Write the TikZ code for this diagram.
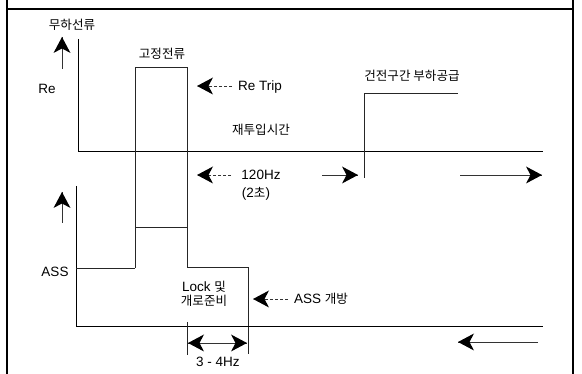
\documentclass[tikz,border=0pt]{standalone}
\usepackage{fontspec}
\setmainfont{Liberation Sans}
\newfontfamily\kr[Scale=0.93]{Noto Sans CJK KR}
\begin{document}
\begin{tikzpicture}[x=1pt,y=-1pt,
  sig/.style={line width=0.8pt, black!85},
  axis/.style={line width=1pt, black},
  frame/.style={line width=1.5pt, black},
  shaft/.style={line width=0.7pt, black!80},
  dshaft/.style={line width=0.7pt, black!80, densely dashed},
  ahead/.pic={\fill[black] (0,0) -- (-16,8.5) -- (-11.5,0) -- (-16,-8.5) -- cycle;},
  lbl/.style={font=\fontsize{13.5}{15}\selectfont, inner sep=0pt}]
\useasboundingbox (0,0) rectangle (582,374);
% frame
\coordinate (fl1) at (7,0); \coordinate (fl2) at (7,374);
\coordinate (fr1) at (573,0); \coordinate (fr2) at (573,374);
\coordinate (ft1) at (7,9); \coordinate (ft2) at (573,9);
\draw[frame] (fl1) -- (fl2);
\draw[frame] (fr1) -- (fr2);
\draw[frame] (ft1) -- (ft2);
% labels
\node[lbl] (t1) at (72,25) {\kr 무하선류};
\node[lbl] (t2) at (162,54) {\kr 고정전류};
\node[lbl] (re) at (47,89) {Re};
\node[lbl] (retrip) at (260,87) {Re Trip};
\node[lbl] (jae) at (261,130) {\kr 재투입시간};
\node[lbl] (geon) at (412,76) {\kr 건전구간 부하공급};
\node[lbl] (hz) at (261,175) {120Hz};
\node[lbl] (sec) at (256,194) {(2{\kr 초})};
\node[lbl] (ass) at (55,272) {ASS};
\node[lbl, align=center] (lock) at (204,294) {Lock {\kr 및}\\[-1pt]{\kr 개로준비}};
\node[lbl] (assopen) at (321,299) {ASS {\kr 개방}};
\node[lbl] (hz34) at (218,362) {3 - 4Hz};
% top section
\coordinate (ua1) at (62,69); \coordinate (ua2) at (62,37);
\draw[shaft] (ua1) -- (ua2); \pic[rotate=90] at (ua2) {ahead};
\coordinate (ta1) at (78,39); \coordinate (ta2) at (78,152);
\draw[axis] (ta1) -- (ta2);
\coordinate (tb2) at (543,152);
\draw[axis] (ta2) -- (tb2);
% pulse
\coordinate (p1) at (135,268); \coordinate (p2) at (135,67);
\coordinate (p3) at (187,67); \coordinate (p4) at (187,267);
\coordinate (p5) at (248,267); \coordinate (p6) at (248,354);
\draw[sig] (p1) -- (p2) -- (p3) -- (p4) -- (p5) -- (p6);
% step
\coordinate (s1) at (364,178); \coordinate (s2) at (364,93); \coordinate (s3) at (458,93);
\draw[sig] (s1) -- (s2) -- (s3);
% arrows top
\coordinate (rt1) at (232,86); \coordinate (rt2) at (197,86);
\draw[dshaft] (rt1) -- (rt2); \pic[rotate=180] at (rt2) {ahead};
\coordinate (h1) at (231,175); \coordinate (h2) at (197,175);
\draw[dshaft] (h1) -- (h2); \pic[rotate=180] at (h2) {ahead};
\coordinate (h3) at (322,175); \coordinate (h4) at (358,175);
\draw[shaft] (h3) -- (h4); \pic at (h4) {ahead};
\coordinate (h5) at (460,175); \coordinate (h6) at (542,175);
\draw[shaft] (h5) -- (h6); \pic at (h6) {ahead};
% lower section
\coordinate (la1) at (62,223); \coordinate (la2) at (62,192);
\draw[shaft] (la1) -- (la2); \pic[rotate=90] at (la2) {ahead};
\coordinate (lx1) at (76,186); \coordinate (lx2) at (76,327);
\draw[axis] (lx1) -- (lx2);
\coordinate (lb2) at (543,327);
\draw[axis] (lx2) -- (lb2);
\coordinate (a1) at (76,268);
\draw[sig] (a1) -- (p1);
\coordinate (m1) at (135,227); \coordinate (m2) at (187,227);
\draw[sig] (m1) -- (m2);
% 3-4Hz
\coordinate (b1) at (187,322); \coordinate (b2) at (187,355);
\draw[sig] (b1) -- (b2);
\coordinate (d1) at (188,343); \coordinate (d2) at (247,343);
\draw[shaft] (d1) -- (d2);
\pic[rotate=180] at (d1) {ahead}; \pic at (d2) {ahead};
% ASS open arrow
\coordinate (ao1) at (288,299); \coordinate (ao2) at (253,299);
\draw[dshaft] (ao1) -- (ao2); \pic[rotate=180] at (ao2) {ahead};
% bottom right arrow
\coordinate (br1) at (538,342); \coordinate (br2) at (458,342);
\draw[shaft] (br1) -- (br2); \pic[rotate=180] at (br2) {ahead};
\end{tikzpicture}
\end{document}
